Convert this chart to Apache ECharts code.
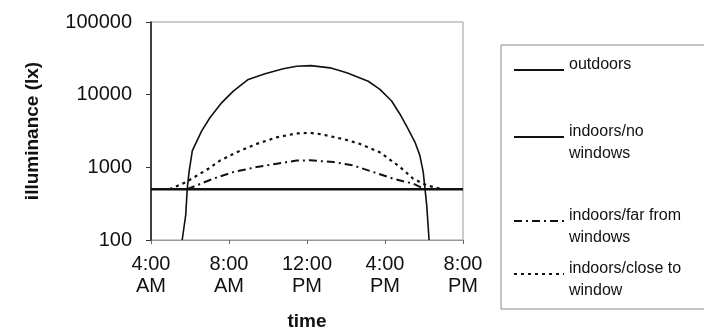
<!DOCTYPE html>
<html>
<head>
<meta charset="utf-8">
<script src="https://cdn.jsdelivr.net/npm/echarts@6/dist/echarts.min.js"></script>
<style>html,body{margin:0;padding:0;background:#fff;}#c{width:704px;height:336px;}</style>
</head>
<body>
<div id="c"></div>
<script>
// ---- data ----
const seriesNames = ['outdoors', 'indoors/no windows', 'indoors/far from windows', 'indoors/close to window'];
const legendLabels = ['outdoors', 'indoors/no\nwindows', 'indoors/far from\nwindows', 'indoors/close to\nwindow'];
const xTickValues = [4, 8, 12, 16, 20];
const xTickLabels = ['4:00\nAM', '8:00\nAM', '12:00\nPM', '4:00\nPM', '8:00\nPM'];
const yTickLabels = ['100', '1000', '10000', '100000'];

const outdoorsHours = [5.6, 5.78, 5.86, 5.95, 6.12, 6.6, 7.03, 7.63, 8.22, 8.99, 9.85, 10.78, 11.47, 12.2, 13.18, 14.04, 15.14, 15.74, 16.34, 16.77, 17.19, 17.54, 17.79, 17.96, 18.05, 18.14, 18.26];
const outdoorsLux   = [100, 220, 508, 860, 1700, 3180, 4850, 7780, 11200, 16200, 19400, 22700, 24600, 25100, 23400, 20000, 15300, 11800, 8180, 5380, 3360, 2210, 1450, 860, 508, 300, 100];

const noWindowsHours = [4, 20];
const noWindowsLux   = [500, 500];

const farHours = [5.85, 7.19, 8.22, 9.42, 10.45, 11.47, 12.15, 13.35, 14.38, 15.40, 16.43, 17.45, 18.05];
const farLux   = [500, 697, 860, 1010, 1120, 1240, 1250, 1180, 1060, 860, 697, 595, 500];

const closeHours = [4.95, 5.8, 6.94, 7.54, 8.39, 9.42, 10.45, 11.47, 12.15, 12.67, 13.86, 14.72, 15.74, 16.77, 17.45, 18.14, 18.95];
const closeLux   = [500, 628, 955, 1240, 1610, 2100, 2590, 2930, 2980, 2870, 2450, 2100, 1610, 1010, 697, 564, 500];

function pairs(xs, ys) { return xs.map((x, i) => [x, ys[i]]); }

const FONT = '"Liberation Sans", Arial, sans-serif';
const chart = echarts.init(document.getElementById('c'), null, {renderer: 'canvas'});

const legendIconY = [73, 139, 223, 276];
function makeLegend(i) {
  const two = legendLabels[i].indexOf('\n') >= 0;
  const H = two ? 12 + 44 : 22 + 10;
  return {
    orient: 'vertical',
    left: 513,
    top: legendIconY[i] - H / 2,
    padding: 0,
    itemWidth: 50,
    itemHeight: 10,
    selectedMode: false,
    itemStyle: {opacity: 0},
    data: [seriesNames[i]],
    formatter: name => {
      const lines = legendLabels[seriesNames.indexOf(name)].split('\n').map(s => '{t|' + s + '}');
      return lines.length > 1 ? '{p| }\n' + lines.join('\n') : lines[0] + '\n{q| }';
    },
    textStyle: {
      fontFamily: FONT, fontSize: 16, color: '#111',
      rich: {
        t: {fontFamily: FONT, fontSize: 16, color: '#111', lineHeight: 22},
        p: {fontSize: 8, lineHeight: 12},
        q: {fontSize: 8, lineHeight: 10}
      }
    }
  };
}

const option = {
  animation: false,
  backgroundColor: '#fff',
  textStyle: {fontFamily: FONT},
  grid: {left: 151, right: 241, top: 22, bottom: 94, show: true, borderColor: '#999', borderWidth: 1},
  legend: [0, 1, 2, 3].map(makeLegend),
  graphic: [{
    type: 'rect', silent: true,
    shape: {x: 501, y: 45, width: 260, height: 264},
    style: {fill: 'none', stroke: '#888', lineWidth: 1}
  }],
  xAxis: {
    type: 'value', min: 4, max: 20, interval: 4,
    name: 'time', nameLocation: 'middle', nameGap: 72,
    nameTextStyle: {fontFamily: FONT, fontSize: 19, fontWeight: 'bold', color: '#111'},
    axisLine: {show: true, lineStyle: {color: '#999', width: 1}},
    axisTick: {show: true, length: 4, lineStyle: {color: '#666'}},
    splitLine: {show: false},
    axisLabel: {
      fontFamily: FONT, fontSize: 20, color: '#111', lineHeight: 22, margin: 13,
      formatter: v => xTickLabels[xTickValues.indexOf(v)] || ''
    }
  },
  yAxis: {
    type: 'log', logBase: 10, min: 100, max: 100000,
    name: 'illuminance (lx)', nameLocation: 'middle', nameGap: 109,
    nameTextStyle: {fontFamily: FONT, fontSize: 19, fontWeight: 'bold', color: '#111'},
    axisLine: {show: true, lineStyle: {color: '#111', width: 1.5}},
    axisTick: {show: true, length: 5, lineStyle: {color: '#333'}},
    splitLine: {show: false},
    axisLabel: {
      fontFamily: FONT, fontSize: 20, color: '#111', margin: 19,
      formatter: v => yTickLabels[Math.round(Math.log10(v)) - 2] || ''
    }
  },
  series: [
    {name: seriesNames[0], type: 'line', symbol: 'none', data: pairs(outdoorsHours, outdoorsLux),
     lineStyle: {color: '#111', width: 1.6}, itemStyle: {color: '#111'}, z: 3},
    {name: seriesNames[1], type: 'line', symbol: 'none', data: pairs(noWindowsHours, noWindowsLux),
     lineStyle: {color: '#111', width: 2.5}, itemStyle: {color: '#111'}, z: 5},
    {name: seriesNames[2], type: 'line', symbol: 'none', data: pairs(farHours, farLux),
     lineStyle: {color: '#111', width: 2, type: [8, 4, 2, 4]}, itemStyle: {color: '#111'}, z: 4},
    {name: seriesNames[3], type: 'line', symbol: 'none', data: pairs(closeHours, closeLux),
     lineStyle: {color: '#111', width: 2.2, type: [3, 4]}, itemStyle: {color: '#111'}, z: 4}
  ]
};
chart.setOption(option);
</script>
</body>
</html>
